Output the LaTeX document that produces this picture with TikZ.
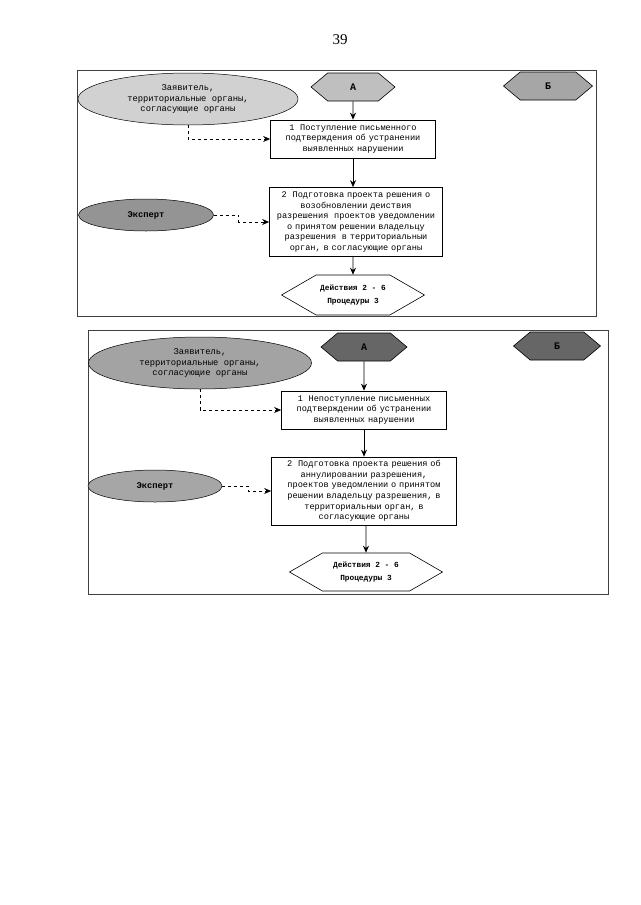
\documentclass[tikz,border=0pt]{standalone}
\usepackage{fontspec}
\usepackage{tikz}
\usetikzlibrary{shapes.geometric, shapes.symbols, arrows.meta}
\setmainfont{Liberation Serif}
\newfontfamily\monofam{Liberation Mono}
\newcommand{\boxtext}{\monofam\fontsize{8.6}{10.6}\selectfont}
\newcommand{\ovaltext}{\monofam\fontsize{8.8}{10.4}\selectfont}
\newcommand{\hextext}{\monofam\bfseries\fontsize{7.8}{12.5}\selectfont}

\begin{document}
\begin{tikzpicture}[x=1pt, y=-1pt,
    frame/.style={draw=black!75, line width=0.7pt},
    box/.style={draw, line width=0.7pt, fill=white, align=center, inner sep=1.5pt, font=\boxtext},
    oval/.style={draw, line width=0.5pt, ellipse, align=center, inner sep=0pt, font=\ovaltext},
    hexa/.style={draw, line width=0.6pt, signal, signal to=east and west, align=center, inner sep=0pt, font=\hextext},
    letter/.style={hexa, signal pointer angle=80, minimum height=28, font=\monofam\bfseries\fontsize{10}{12}\selectfont},
    flow/.style={-{Stealth[length=7pt, width=6pt]}, line width=0.8pt},
    link/.style={flow, dashed}]
\useasboundingbox (0,0) rectangle (640,905);

% Page number
\node[font=\fontsize{15}{17}\selectfont] (page) at (340,40) {39};

% Frames
\draw[frame] (77,70) rectangle (596,316);
\draw[frame] (88,330) rectangle (608,594);

% Upper part
\node[oval, fill=black!18, minimum width=220, minimum height=52] (applA) at (188,99)
    {Заявитель,\\территориальные органы,\\согласующие органы};
\node[oval, fill=black!42, minimum width=135, minimum height=32, font=\ovaltext\bfseries] (expA) at (146,215) {Эксперт};
\node[letter, fill=black!25, minimum width=84] (hexAA) at (353,87) {А};
\node[letter, fill=black!35, minimum width=89] (hexBA) at (548,86) {Б};
\node[box, text width=162, minimum height=38] (stepA1) at (353,139)
    {1\ \ Поступление письменного\\подтверждения об устранении\\выявленных нарушении};
\node[box, text width=170, minimum height=69] (stepA2) at (356,222)
    {2\ \ Подготовка проекта решения о\\возобновлении деиствия\\разрешения\ \ проектов уведомлении\\о принятом решении владельцу\\разрешения\ \ в территориальныи\\орган, в согласующие органы};
\node[hexa, signal pointer angle=60, minimum width=143, minimum height=40] (endA) at (353,295)
    {Действия 2 - 6\\Процедуры 3};

\draw[flow] (hexAA) -- (stepA1);
\draw[flow] (stepA1) -- (stepA1 |- stepA2.north);
\draw[flow] (stepA2.south -| endA) -- (endA);
\draw[link] (applA.south) |- (stepA1.west);
\draw[link] (expA.east) -- ++(25,0) |- (stepA2.west);

% Lower part
\node[oval, fill=black!36, minimum width=223, minimum height=52] (applB) at (200,363)
    {Заявитель,\\территориальные органы,\\согласующие органы};
\node[oval, fill=black!35, minimum width=134, minimum height=32, font=\ovaltext\bfseries] (expB) at (155,486) {Эксперт};
\node[letter, fill=black!60, minimum width=86] (hexAB) at (364,347) {А};
\node[letter, fill=black!60, minimum width=87] (hexBB) at (557,346) {Б};
\node[box, text width=162, minimum height=38] (stepB1) at (364,410)
    {1\ \ Непоступление письменных\\подтверждении об устранении\\выявленных нарушении};
\node[box, text width=182, minimum height=68] (stepB2) at (364,491)
    {2\ \ Подготовка проекта решения об\\аннулировании разрешения,\\проектов уведомлении о принятом\\решении владельцу разрешения, в\\территориальныи орган, в\\согласующие органы};
\node[hexa, signal pointer angle=60, minimum width=153, minimum height=38] (endB) at (366,572)
    {Действия 2 - 6\\Процедуры 3};

\draw[flow] (hexAB) -- (stepB1);
\draw[flow] (stepB1) -- (stepB2);
\draw[flow] (stepB2.south -| endB) -- (endB);
\draw[link] (applB.south) |- (stepB1.west);
\draw[link] (expB.east) -- ++(26,0) |- (stepB2.west);
\end{tikzpicture}
\end{document}
